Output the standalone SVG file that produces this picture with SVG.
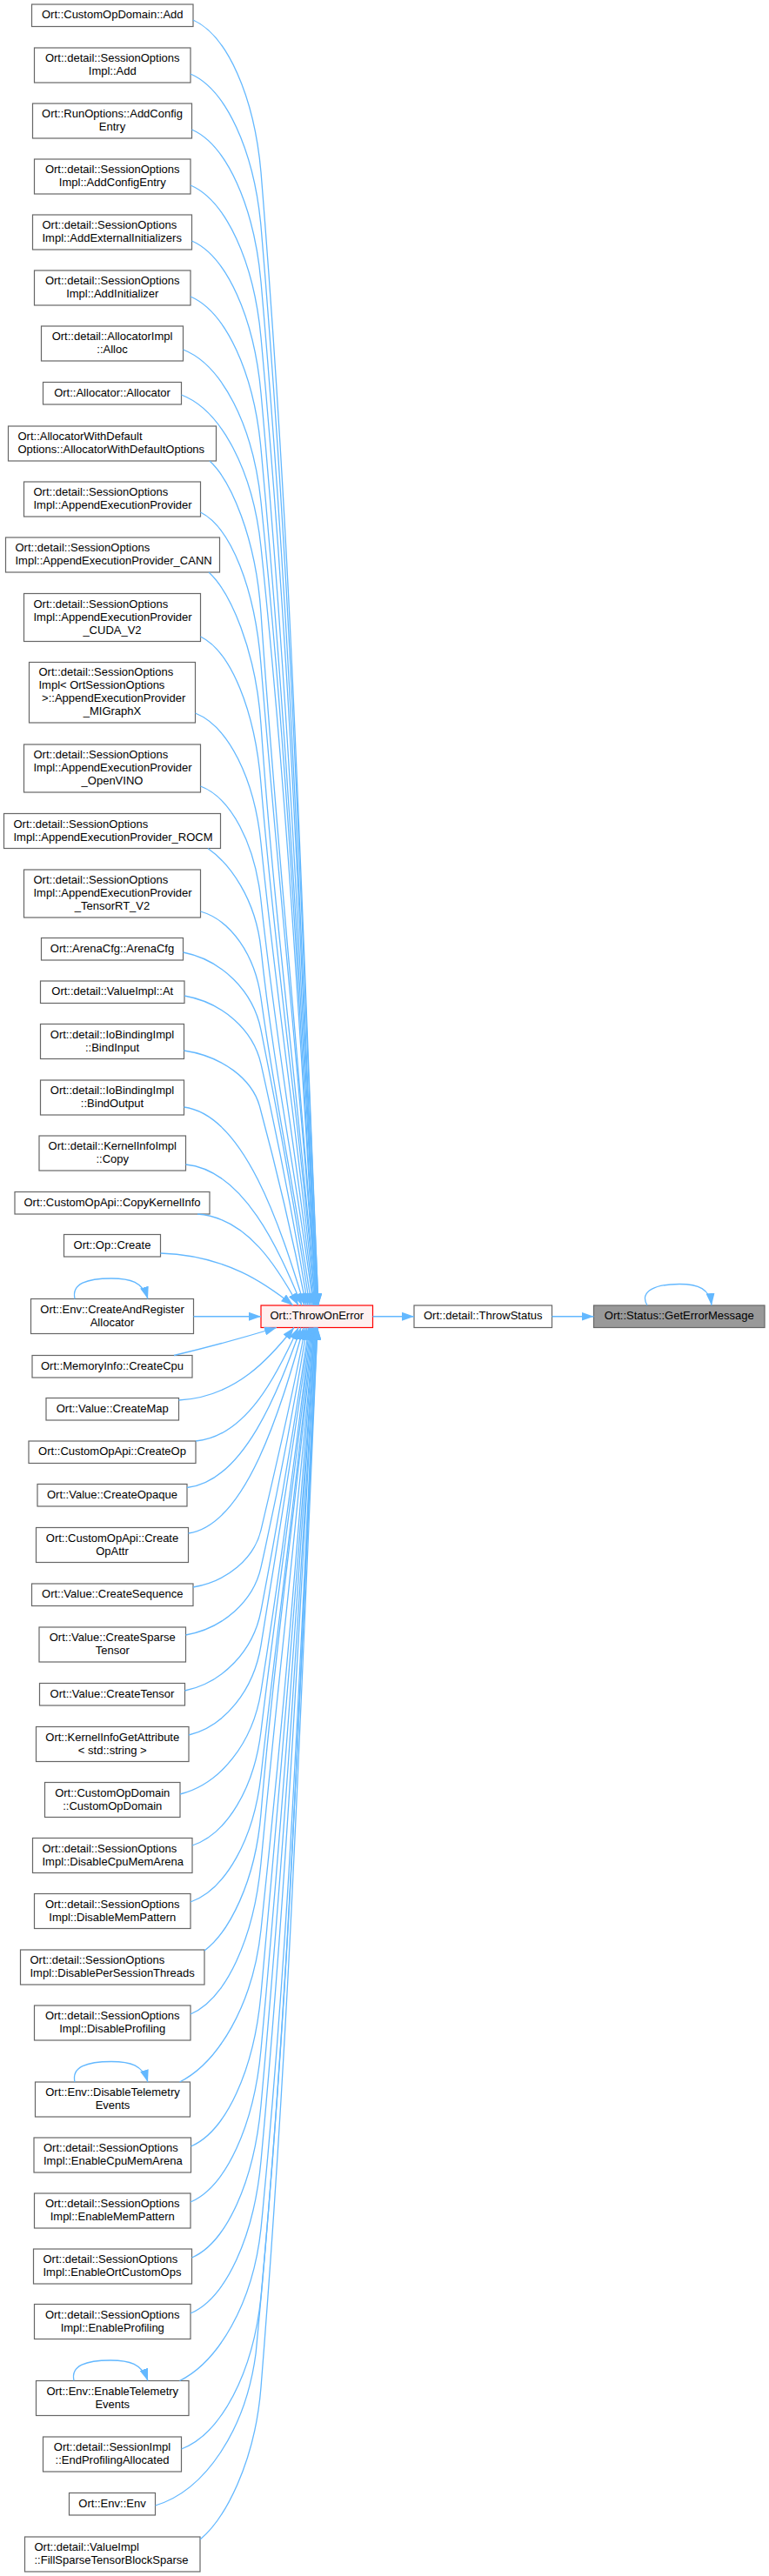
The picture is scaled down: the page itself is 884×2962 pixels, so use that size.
<svg xmlns="http://www.w3.org/2000/svg" width="884" height="2962" viewBox="0 0 884 2962">
<style>
.n rect{fill:#ffffff;stroke:#666666;stroke-width:1.2}
text{font-family:"Liberation Sans",Arial,Helvetica,sans-serif;font-size:13px;fill:#000000}
.c{text-anchor:middle}
#edges path{fill:none;stroke:#63b8ff;stroke-width:1.3;marker-end:url(#ah)}
</style>
<defs>
<marker id="ah" markerUnits="userSpaceOnUse" markerWidth="14" markerHeight="10" viewBox="0 0 14 10" refX="14" refY="5" orient="auto"><path d="M0,0 L14,5 L0,10 z" fill="#63b8ff"/></marker>
</defs>
<rect x="0" y="0" width="884" height="2962" fill="#ffffff"/>
<g id="n1" class="n"><rect x="36.5" y="5" width="185.5" height="25.5"/><text class="c" x="129.25" y="21.25">Ort::CustomOpDomain::Add</text></g>
<g id="n2" class="n"><rect x="39.5" y="55" width="179.5" height="40"/><text class="c" x="129.25" y="71">Ort::detail::SessionOptions</text><text class="c" x="129.25" y="86">Impl::Add</text></g>
<g id="n3" class="n"><rect x="37.5" y="119" width="183" height="40"/><text class="c" x="129" y="135">Ort::RunOptions::AddConfig</text><text class="c" x="129" y="150">Entry</text></g>
<g id="n4" class="n"><rect x="39.5" y="183" width="179.5" height="40"/><text class="c" x="129.25" y="199">Ort::detail::SessionOptions</text><text class="c" x="129.25" y="214">Impl::AddConfigEntry</text></g>
<g id="n5" class="n"><rect x="37.5" y="247" width="183" height="40"/><text x="48.5" y="263">Ort::detail::SessionOptions</text><text x="48.5" y="278">Impl::AddExternalInitializers</text></g>
<g id="n6" class="n"><rect x="39.5" y="311" width="179.5" height="40"/><text class="c" x="129.25" y="327">Ort::detail::SessionOptions</text><text class="c" x="129.25" y="342">Impl::AddInitializer</text></g>
<g id="n7" class="n"><rect x="47.5" y="375" width="163" height="40"/><text class="c" x="129" y="391">Ort::detail::AllocatorImpl</text><text class="c" x="129" y="406">::Alloc</text></g>
<g id="n8" class="n"><rect x="49.5" y="439.5" width="159" height="25.5"/><text class="c" x="129" y="455.75">Ort::Allocator::Allocator</text></g>
<g id="n9" class="n"><rect x="9.5" y="490" width="239" height="40"/><text x="20.5" y="506">Ort::AllocatorWithDefault</text><text x="20.5" y="521">Options::AllocatorWithDefaultOptions</text></g>
<g id="n10" class="n"><rect x="27.5" y="554" width="203" height="40"/><text x="38.5" y="570">Ort::detail::SessionOptions</text><text x="38.5" y="585">Impl::AppendExecutionProvider</text></g>
<g id="n11" class="n"><rect x="6.5" y="618" width="246" height="40"/><text x="17.5" y="634">Ort::detail::SessionOptions</text><text x="17.5" y="649">Impl::AppendExecutionProvider_CANN</text></g>
<g id="n12" class="n"><rect x="27.5" y="682.5" width="203" height="55"/><text x="38.5" y="698.5">Ort::detail::SessionOptions</text><text x="38.5" y="713.5">Impl::AppendExecutionProvider</text><text class="c" x="129" y="728.5">_CUDA_V2</text></g>
<g id="n13" class="n"><rect x="33.5" y="761.5" width="191" height="69.5"/><text x="44.5" y="777.25">Ort::detail::SessionOptions</text><text x="44.5" y="792.25">Impl&lt; OrtSessionOptions</text><text x="44.5" y="807.25" xml:space="preserve"> &gt;::AppendExecutionProvider</text><text class="c" x="129" y="822.25">_MIGraphX</text></g>
<g id="n14" class="n"><rect x="27.5" y="856" width="203" height="55"/><text x="38.5" y="872">Ort::detail::SessionOptions</text><text x="38.5" y="887">Impl::AppendExecutionProvider</text><text class="c" x="129" y="902">_OpenVINO</text></g>
<g id="n15" class="n"><rect x="4.5" y="935.5" width="249" height="40"/><text x="15.5" y="951.5">Ort::detail::SessionOptions</text><text x="15.5" y="966.5">Impl::AppendExecutionProvider_ROCM</text></g>
<g id="n16" class="n"><rect x="27.5" y="1000" width="203" height="55"/><text x="38.5" y="1016">Ort::detail::SessionOptions</text><text x="38.5" y="1031">Impl::AppendExecutionProvider</text><text class="c" x="129" y="1046">_TensorRT_V2</text></g>
<g id="n17" class="n"><rect x="47.5" y="1078.5" width="163" height="25.5"/><text class="c" x="129" y="1094.75">Ort::ArenaCfg::ArenaCfg</text></g>
<g id="n18" class="n"><rect x="46.5" y="1128" width="165.5" height="25.5"/><text class="c" x="129.25" y="1144.25">Ort::detail::ValueImpl::At</text></g>
<g id="n19" class="n"><rect x="46.5" y="1177.5" width="165" height="40"/><text class="c" x="129" y="1193.5">Ort::detail::IoBindingImpl</text><text class="c" x="129" y="1208.5">::BindInput</text></g>
<g id="n20" class="n"><rect x="46.5" y="1242" width="165" height="40"/><text class="c" x="129" y="1258">Ort::detail::IoBindingImpl</text><text class="c" x="129" y="1273">::BindOutput</text></g>
<g id="n21" class="n"><rect x="45" y="1306" width="168.5" height="40"/><text class="c" x="129.25" y="1322">Ort::detail::KernelInfoImpl</text><text class="c" x="129.25" y="1337">::Copy</text></g>
<g id="n22" class="n"><rect x="17" y="1370.5" width="224" height="25.5"/><text class="c" x="129" y="1386.75">Ort::CustomOpApi::CopyKernelInfo</text></g>
<g id="n23" class="n"><rect x="73.5" y="1419.5" width="111" height="25.5"/><text class="c" x="129" y="1435.75">Ort::Op::Create</text></g>
<g id="n24" class="n"><rect x="35.5" y="1493.5" width="187" height="40"/><text class="c" x="129" y="1509.5">Ort::Env::CreateAndRegister</text><text class="c" x="129" y="1524.5">Allocator</text></g>
<g id="n25" class="n"><rect x="37" y="1558.5" width="184" height="25.5"/><text class="c" x="129" y="1574.75">Ort::MemoryInfo::CreateCpu</text></g>
<g id="n26" class="n"><rect x="53" y="1607.5" width="152.5" height="25.5"/><text class="c" x="129.25" y="1623.75">Ort::Value::CreateMap</text></g>
<g id="n27" class="n"><rect x="33" y="1657" width="192" height="25.5"/><text class="c" x="129" y="1673.25">Ort::CustomOpApi::CreateOp</text></g>
<g id="n28" class="n"><rect x="43" y="1706.5" width="172" height="25.5"/><text class="c" x="129" y="1722.75">Ort::Value::CreateOpaque</text></g>
<g id="n29" class="n"><rect x="41.5" y="1756.5" width="175" height="40"/><text class="c" x="129" y="1772.5">Ort::CustomOpApi::Create</text><text class="c" x="129" y="1787.5">OpAttr</text></g>
<g id="n30" class="n"><rect x="36.5" y="1821" width="185.5" height="25.5"/><text class="c" x="129.25" y="1837.25">Ort::Value::CreateSequence</text></g>
<g id="n31" class="n"><rect x="45" y="1871" width="168.5" height="40"/><text class="c" x="129.25" y="1887">Ort::Value::CreateSparse</text><text class="c" x="129.25" y="1902">Tensor</text></g>
<g id="n32" class="n"><rect x="45.5" y="1935.5" width="167" height="25.5"/><text class="c" x="129" y="1951.75">Ort::Value::CreateTensor</text></g>
<g id="n33" class="n"><rect x="41.5" y="1985.5" width="175.5" height="40"/><text class="c" x="129.25" y="2001.5">Ort::KernelInfoGetAttribute</text><text class="c" x="129.25" y="2016.5">&lt; std::string &gt;</text></g>
<g id="n34" class="n"><rect x="51.5" y="2049.5" width="155.5" height="40"/><text class="c" x="129.25" y="2065.5">Ort::CustomOpDomain</text><text class="c" x="129.25" y="2080.5">::CustomOpDomain</text></g>
<g id="n35" class="n"><rect x="37.5" y="2113.5" width="183.5" height="40"/><text x="48.5" y="2129.5">Ort::detail::SessionOptions</text><text x="48.5" y="2144.5">Impl::DisableCpuMemArena</text></g>
<g id="n36" class="n"><rect x="39.5" y="2177.5" width="179.5" height="40"/><text class="c" x="129.25" y="2193.5">Ort::detail::SessionOptions</text><text class="c" x="129.25" y="2208.5">Impl::DisableMemPattern</text></g>
<g id="n37" class="n"><rect x="23.5" y="2242" width="211.5" height="40"/><text x="34.5" y="2258">Ort::detail::SessionOptions</text><text x="34.5" y="2273">Impl::DisablePerSessionThreads</text></g>
<g id="n38" class="n"><rect x="39.5" y="2306" width="179.5" height="40"/><text class="c" x="129.25" y="2322">Ort::detail::SessionOptions</text><text class="c" x="129.25" y="2337">Impl::DisableProfiling</text></g>
<g id="n39" class="n"><rect x="40.5" y="2394" width="178" height="40"/><text class="c" x="129.5" y="2410">Ort::Env::DisableTelemetry</text><text class="c" x="129.5" y="2425">Events</text></g>
<g id="n40" class="n"><rect x="39" y="2458" width="180.5" height="40"/><text x="50" y="2474">Ort::detail::SessionOptions</text><text x="50" y="2489">Impl::EnableCpuMemArena</text></g>
<g id="n41" class="n"><rect x="39.5" y="2522" width="179.5" height="40"/><text class="c" x="129.25" y="2538">Ort::detail::SessionOptions</text><text class="c" x="129.25" y="2553">Impl::EnableMemPattern</text></g>
<g id="n42" class="n"><rect x="38.5" y="2586" width="182" height="40"/><text x="49.5" y="2602">Ort::detail::SessionOptions</text><text x="49.5" y="2617">Impl::EnableOrtCustomOps</text></g>
<g id="n43" class="n"><rect x="39.5" y="2649.5" width="179.5" height="40"/><text class="c" x="129.25" y="2665.5">Ort::detail::SessionOptions</text><text class="c" x="129.25" y="2680.5">Impl::EnableProfiling</text></g>
<g id="n44" class="n"><rect x="41.5" y="2737.5" width="175.5" height="40"/><text class="c" x="129.25" y="2753.5">Ort::Env::EnableTelemetry</text><text class="c" x="129.25" y="2768.5">Events</text></g>
<g id="n45" class="n"><rect x="49.5" y="2802" width="159" height="40"/><text class="c" x="129" y="2818">Ort::detail::SessionImpl</text><text class="c" x="129" y="2833">::EndProfilingAllocated</text></g>
<g id="n46" class="n"><rect x="79.5" y="2866.5" width="99" height="25.5"/><text class="c" x="129" y="2882.75">Ort::Env::Env</text></g>
<g id="n47" class="n"><rect x="28.5" y="2917" width="201.5" height="40"/><text x="39.5" y="2933">Ort::detail::ValueImpl</text><text x="39.5" y="2948">::FillSparseTensorBlockSparse</text></g>
<g id="n48" class="n"><rect x="300" y="1501" width="128.5" height="25.5" style="fill:#fff0f0;stroke:#ff0000"/><text class="c" x="364.25" y="1517.25">Ort::ThrowOnError</text></g>
<g id="n49" class="n"><rect x="476" y="1501" width="158.5" height="25.5"/><text class="c" x="555.25" y="1517.25">Ort::detail::ThrowStatus</text></g>
<g id="n50" class="n"><rect x="682.5" y="1501" width="196.5" height="25.5" style="fill:#999999;stroke:#666666"/><text class="c" x="780.75" y="1517.25">Ort::Status::GetErrorMessage</text></g>
<g id="edges">
<path d="M222,23 C261,40.5 292.2,110.5 300,198 C337,654 346.2,1045 366,1501"/>
<path d="M219,85 C259.5,102.5 291.9,172.5 300,260 C337,694.4 346.2,1066.6 366,1501"/>
<path d="M220.5,149 C260.3,166.5 292,236.5 300,324 C336.4,736 345.5,1089 365,1501"/>
<path d="M219,213 C259.5,230.5 291.9,300.5 300,388 C336.1,777.6 345.5,1111.4 365,1501"/>
<path d="M220.5,277 C260.3,294.5 292,364.5 300,452 C333.4,819.2 345.5,1133.8 365,1501"/>
<path d="M219,341 C259.5,358.5 291.9,428.5 300,516 C331.9,860.8 345.5,1156.2 365,1501"/>
<path d="M210.5,402 C255.3,419.5 291,489.5 300,577 C333.1,900.4 344.8,1177.6 364,1501"/>
<path d="M208.5,454 C254.3,471.5 290.9,541.5 300,629 C331.9,934.2 344.8,1195.8 364,1501"/>
<path d="M241,530 C265,552 294.1,617.5 300,705 C318.8,983.6 344.8,1222.4 364,1501"/>
<path d="M230.5,589 C265.3,606.5 293.1,676.5 300,764 C320.5,1022 344.8,1243 364,1501"/>
<path d="M240,658 C264,680 294,745.5 300,833 C316,1066.8 344.1,1267.2 363,1501"/>
<path d="M230.5,732 C265.3,748.9 293.1,816.6 300,901.2 C317.2,1111.1 344.1,1291.1 363,1501"/>
<path d="M224.5,820 C262.3,835 292.5,894.9 300,969.8 C318.7,1155.7 343.4,1315.1 362,1501"/>
<path d="M230.5,904 C265.3,917.1 293.1,969.7 300,1035.3 C317.3,1198.3 342.7,1338 361,1501"/>
<path d="M239,975.5 C264,993 293.9,1033.3 300,1091.1 C315.1,1234.6 342,1357.5 360,1501"/>
<path d="M230.5,1048 C265.3,1058 293.1,1097.9 300,1147.7 C317.2,1271.4 340.6,1377.3 358,1501"/>
<path d="M210.5,1095 C255.3,1103.9 291.1,1139.7 300,1184.3 C322.2,1295.1 339.2,1390.2 356,1501"/>
<path d="M212,1145 C256,1152.8 291.2,1184.2 300,1223.3 C321.8,1320.5 337.8,1403.8 354,1501"/>
<path d="M211.5,1208 C255.1,1214.5 289.9,1240.3 298.6,1272.5 C320.2,1352.5 336,1421 352,1501"/>
<path d="M211.5,1273 C280.8,1282.1 322.3,1409.8 350,1501"/>
<path d="M213.5,1339 C280.3,1345.5 320.3,1436.2 347,1501"/>
<path d="M227,1396 C285,1400.2 319.8,1459 343,1501"/>
<path d="M184.5,1441 C260.8,1443.4 306.5,1477 337,1501"/>
<path d="M222.5,1513.75 L300,1513.75"/>
<path d="M200,1558.5 C240,1549 280,1538 318,1526.5"/>
<path d="M205.5,1610 C271.8,1606.7 311.5,1559.9 338,1526.5"/>
<path d="M225,1657 C284,1651.8 319.4,1578.7 343,1526.5"/>
<path d="M215,1710.5 C280.5,1703.1 319.8,1600.1 346,1526.5"/>
<path d="M216.5,1763 C282.8,1753.5 322.5,1621.1 349,1526.5"/>
<path d="M222,1825 C261,1818.4 292.2,1792.2 300,1759.3 C319.3,1677.8 335.7,1608 351,1526.5"/>
<path d="M213.5,1880 C256.8,1872.2 291.4,1841.1 300,1802.2 C321.5,1705.7 337.1,1623 353,1526.5"/>
<path d="M212.5,1944 C256.3,1934.8 291.3,1898 300,1852.1 C321.7,1738.1 338.5,1640.5 355,1526.5"/>
<path d="M217,1995 C258.5,1984.7 291.7,1943.5 300,1891.9 C320.6,1764 339.2,1654.4 356,1526.5"/>
<path d="M207,2063 C253.5,2051.2 290.7,2004 300,1945 C323.1,1798.5 339.9,1673 357,1526.5"/>
<path d="M221,2122 C260.5,2108.9 292.1,2056.5 300,1991 C319.6,1828.4 340.6,1689.1 358,1526.5"/>
<path d="M219,2187 C259.5,2172.5 291.9,2114.4 300,2041.7 C320.1,1861.4 341.3,1706.8 359,1526.5"/>
<path d="M235,2243 C263,2222 293.5,2164.2 300,2085.4 C316.1,1889.8 342,1722.1 360,1526.5"/>
<path d="M219,2316 C259.5,2298.6 291.9,2229.2 300,2142.3 C320.1,1926.8 342.7,1742 361,1526.5"/>
<path d="M206.5,2394 C250,2372 290.7,2306.5 300,2219 C325.9,1976.6 342.7,1768.9 361,1526.5"/>
<path d="M219.5,2468 C259.8,2450.5 292,2380.5 300,2293 C324.7,2024.7 343.4,1794.8 362,1526.5"/>
<path d="M219,2532 C259.5,2514.5 291.9,2444.5 300,2357 C326.9,2066.3 343.4,1817.2 362,1526.5"/>
<path d="M220.5,2596 C260.3,2578.5 292,2508.5 300,2421 C328.4,2107.9 344.1,1839.6 363,1526.5"/>
<path d="M219,2660 C259.5,2642.5 291.9,2572.5 300,2485 C331.1,2149.5 344.1,1862 363,1526.5"/>
<path d="M206.5,2737.5 C250,2716 290.7,2650 300,2562.5 C335.8,2199.9 344.8,1889.1 364,1526.5"/>
<path d="M208.5,2816 C254.3,2798.5 290.9,2728.5 300,2641 C335.8,2250.9 344.8,1916.6 364,1526.5"/>
<path d="M178.5,2881 C236.3,2863.5 282.5,2793.5 294.1,2706 C333.8,2293.2 343.7,1939.3 365,1526.5"/>
<path d="M230,2920 C258,2897 293,2832.5 300,2745 C334.1,2318.5 345.5,1953 365,1526.5"/>
<path d="M86,1493.5 C82,1476 100,1470 128,1470 C150,1470 164,1474 170,1493.5"/>
<path d="M86,2394 C82,2376.5 100,2370.5 128,2370.5 C150,2370.5 164,2374.5 170,2394"/>
<path d="M85,2737.5 C81,2720 99,2714 127,2714 C149,2714 163,2718 170,2737.5"/>
<path d="M428.5,1513.75 L476,1513.75"/>
<path d="M634.5,1513.75 L682.5,1513.75"/>
<path d="M744,1501 C734,1484 755,1476.5 781,1476.5 C803,1476.5 816,1482 818,1501"/>
</g>
</svg>
